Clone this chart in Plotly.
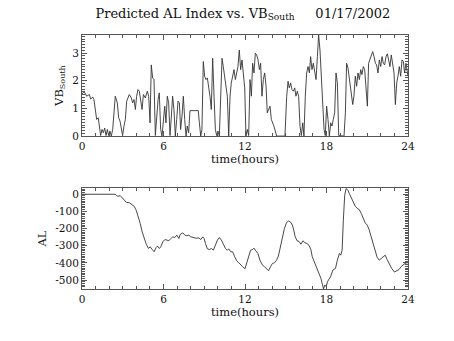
import plotly.graph_objects as go

# Southward solar-wind driver VB_South (mV/m) vs. time of day (hours)
vb_hours = [
    0.00, 0.15, 0.34, 0.54, 0.64, 0.79, 0.88, 0.98, 1.08, 1.20, 1.28, 1.37, 1.47, 1.57, 1.67, 1.77,
    1.87, 1.96, 2.06, 2.16, 2.26, 2.36, 2.45, 2.60, 2.70, 2.80, 2.90, 2.99, 3.09, 3.19, 3.29, 3.48,
    3.63, 3.73, 3.83, 3.93, 4.02, 4.12, 4.22, 4.32, 4.42, 4.52, 4.66, 4.81, 4.91, 5.01, 5.10, 5.20,
    5.30, 5.40, 5.50, 5.60, 5.69, 5.79, 5.89, 5.99, 6.09, 6.18, 6.28, 6.38, 6.48, 6.58, 6.67, 6.77,
    6.87, 6.97, 7.07, 7.17, 7.26, 7.36, 7.46, 7.56, 7.66, 7.75, 7.85, 7.95, 8.56, 8.64, 8.74, 8.83,
    8.93, 9.03, 9.13, 9.23, 9.33, 9.42, 9.52, 9.62, 9.72, 9.82, 9.91, 10.01, 10.11, 10.21, 10.31, 10.40,
    10.50, 10.60, 10.70, 10.80, 10.90, 10.99, 11.09, 11.19, 11.29, 11.39, 11.48, 11.58, 11.68, 11.78, 11.88, 11.98,
    12.07, 12.17, 12.27, 12.37, 12.47, 12.56, 12.66, 12.76, 12.86, 12.96, 13.06, 13.15, 13.25, 13.35, 13.45, 13.55,
    13.64, 13.74, 13.84, 13.94, 14.04, 14.13, 14.33, 14.94, 15.07, 15.17, 15.26, 15.36, 15.46, 15.56, 15.66, 15.75,
    15.85, 15.95, 16.05, 16.15, 16.25, 16.34, 16.44, 16.54, 16.64, 16.74, 16.83, 16.93, 17.03, 17.13, 17.23, 17.33,
    17.42, 17.52, 17.62, 17.72, 17.82, 17.91, 18.01, 18.11, 18.21, 18.31, 18.40, 18.50, 18.60, 18.70, 18.80, 18.90,
    19.29, 19.39, 19.48, 19.58, 19.68, 19.78, 19.93, 20.02, 20.12, 20.22, 20.32, 20.42, 20.52, 20.61, 20.71, 20.81,
    20.91, 21.01, 21.10, 21.20, 21.30, 21.40, 21.50, 21.60, 21.69, 21.79, 21.89, 21.99, 22.09, 22.18, 22.28, 22.38,
    22.48, 22.58, 22.67, 22.77, 22.87, 22.97, 23.07, 23.17, 23.26, 23.36, 23.46, 23.56, 23.66, 23.75, 23.85, 24.00,
]
vb_south = [
    1.50, 1.62, 1.44, 1.50, 1.34, 1.41, 1.32, 0.84, 0.60, 0.66, 0.24, 0.02, 0.24, 0.12, 0.29, 0.02,
    0.24, 0.02, 0.18, 0.00, 0.24, 0.84, 1.44, 1.20, 0.66, 0.54, 0.24, 0.02, 0.36, 0.60, 1.26, 1.50,
    1.38, 1.20, 1.32, 0.96, 1.44, 1.68, 1.62, 1.32, 0.96, 1.50, 1.38, 1.62, 1.44, 0.48, 2.57, 2.10,
    2.04, 0.02, 0.84, 1.32, 1.56, 0.24, 0.00, 0.60, 1.08, 0.48, 1.44, 1.20, 0.02, 0.72, 1.44, 0.96,
    0.00, 0.60, 1.26, 1.20, 0.24, 0.72, 1.44, 0.60, 0.00, 0.36, 0.12, 0.92, 0.92, 0.48, 0.00, 0.24,
    2.69, 2.16, 2.04, 2.10, 1.80, 1.44, 0.96, 2.81, 1.44, 0.24, 0.02, 0.18, 0.00, 1.44, 2.81, 2.51,
    2.16, 1.68, 1.44, 0.00, 1.44, 1.92, 2.16, 2.40, 2.04, 2.28, 2.51, 3.11, 2.40, 2.75, 2.16, 1.74,
    0.00, 0.24, 0.02, 2.04, 1.44, 2.63, 2.28, 2.99, 2.93, 2.75, 2.40, 2.63, 1.44, 2.04, 2.28, 1.80,
    0.84, 0.96, 1.08, 0.60, 0.48, 0.36, 0.00, 0.00, 1.44, 1.98, 1.74, 1.92, 1.68, 1.62, 1.74, 1.44,
    1.62, 1.44, 0.36, 0.02, 0.48, 0.00, 1.44, 2.28, 2.51, 2.28, 2.87, 2.40, 2.63, 2.28, 2.04, 2.87,
    3.65, 3.11, 2.04, 1.44, 0.24, 0.02, 1.08, 0.60, 0.00, 0.48, 0.36, 0.60, 0.84, 2.28, 1.92, 0.02,
    0.00, 0.84, 2.63, 2.46, 2.04, 1.80, 1.14, 1.44, 2.16, 1.80, 2.28, 2.04, 2.40, 2.22, 2.51, 2.40,
    1.68, 1.08, 2.63, 2.75, 2.93, 3.05, 2.87, 2.63, 2.57, 2.28, 2.75, 2.51, 2.87, 2.63, 2.57, 2.87,
    2.97, 2.75, 2.51, 2.93, 2.51, 2.28, 1.14, 1.92, 2.16, 2.51, 2.16, 2.75, 2.69, 2.28, 2.63, 2.16,
]

# Predicted AL index (nT) vs. time of day (hours)
al_hours = [
    0.00, 2.45, 2.52, 2.64, 2.82, 2.94, 3.06, 3.26, 3.50, 3.67, 3.84, 3.99, 4.16, 4.29, 4.43, 4.58,
    4.73, 4.90, 5.02, 5.17, 5.31, 5.46, 5.56, 5.70, 5.80, 5.95, 6.10, 6.25, 6.39, 6.54, 6.69, 6.83,
    6.98, 7.13, 7.23, 7.42, 7.57, 7.72, 7.86, 8.01, 8.20, 8.40, 8.60, 8.74, 8.89, 8.99, 9.09, 9.23,
    9.38, 9.53, 9.67, 9.82, 9.97, 10.11, 10.26, 10.41, 10.56, 10.70, 10.80, 10.95, 11.09, 11.24, 11.39, 11.54,
    11.68, 11.83, 12.00, 12.12, 12.27, 12.41, 12.56, 12.66, 12.80, 12.95, 13.10, 13.29, 13.44, 13.59, 13.73, 13.88,
    14.02, 14.17, 14.32, 14.46, 14.61, 14.76, 14.90, 15.05, 15.20, 15.34, 15.49, 15.59, 15.68, 15.83, 15.98, 16.12,
    16.27, 16.41, 16.56, 16.71, 16.85, 16.95, 17.10, 17.24, 17.39, 17.49, 17.59, 17.68, 17.78, 17.88, 17.98, 18.07,
    18.17, 18.32, 18.46, 18.66, 18.80, 18.95, 19.05, 19.15, 19.24, 19.34, 19.44, 19.59, 19.68, 19.83, 19.98, 20.12,
    20.27, 20.41, 20.56, 20.71, 20.85, 21.00, 21.15, 21.29, 21.44, 21.59, 21.73, 21.88, 22.02, 22.17, 22.32, 22.46,
    22.61, 22.80, 23.00, 23.20, 23.34, 23.49, 23.63, 23.78, 23.93, 24.00,
]
al_index = [
    0, 0, -6, -12, -8, -19, -35, -47, -50, -58, -70, -93, -132, -171, -219, -258,
    -291, -316, -306, -322, -335, -310, -302, -316, -306, -277, -264, -267, -271, -258, -248, -252,
    -238, -258, -234, -225, -238, -242, -238, -248, -254, -256, -254, -264, -248, -258, -287, -318,
    -322, -316, -326, -297, -267, -252, -267, -291, -316, -326, -318, -335, -335, -364, -388, -399,
    -413, -422, -434, -403, -355, -326, -322, -314, -330, -345, -384, -413, -422, -434, -446, -422,
    -403, -399, -384, -360, -306, -248, -200, -167, -155, -161, -180, -209, -244, -271, -275, -291,
    -271, -283, -287, -297, -322, -364, -393, -422, -457, -465, -490, -519, -552, -529, -539, -510,
    -496, -477, -442, -432, -384, -345, -355, -326, -151, -6, 33, 23, 4, -25, -54, -70,
    -83, -89, -112, -141, -167, -180, -209, -248, -291, -326, -368, -384, -374, -364, -355, -380,
    -407, -432, -453, -442, -438, -422, -413, -403, -399, -399,
]

x_ticks = [0, 6, 12, 18, 24]
vb_ticks = [0, 1, 2, 3]
al_ticks = [0, -100, -200, -300, -400, -500]

FONT = "DejaVu Serif"
INK = "#333333"
FRAME = "#555555"

fig = go.Figure()
fig.add_trace(go.Scatter(x=vb_hours, y=vb_south, mode="lines",
                         line=dict(color=INK, width=0.9), xaxis="x", yaxis="y"))
fig.add_trace(go.Scatter(x=al_hours, y=al_index, mode="lines",
                         line=dict(color=INK, width=0.9), xaxis="x2", yaxis="y2"))

axis_common = dict(
    showgrid=False, zeroline=False, showline=True, linecolor=FRAME, linewidth=1,
    mirror="allticks", ticks="inside", ticklen=5, tickcolor=FRAME, tickwidth=1,
    tickfont=dict(family=FONT, size=10.5, color="#111111"),
)
x_common = dict(axis_common, range=[0, 24], tickvals=x_ticks,
                ticktext=[str(t) for t in x_ticks],
                minor=dict(dtick=1, ticks="inside", ticklen=3, tickcolor=FRAME),
                title=dict(text="time(hours)", font=dict(family=FONT, size=11.5, color="#111111"),
                           standoff=1))

fig.update_layout(
    width=454, height=341,
    margin=dict(l=82, r=46, t=35, b=52),
    paper_bgcolor="white", plot_bgcolor="white",
    showlegend=False,
    title=dict(text="Predicted AL Index vs. VB<sub>South</sub>\u00a0\u00a0\u00a0\u00a0\u00a001/17/2002",
               x=0.535, xanchor="center", y=0.975, yanchor="top",
               font=dict(family=FONT, size=13, color="#111111")),
    xaxis=dict(x_common, domain=[0, 1], anchor="y"),
    yaxis=dict(axis_common, domain=[0.602, 1.0], anchor="x",
               range=[0, max(vb_south)], tickvals=vb_ticks,
               ticktext=[str(t) for t in vb_ticks],
               minor=dict(dtick=0.1, ticks="inside", ticklen=3, tickcolor=FRAME),
               title=dict(text="VB<sub>South</sub>", font=dict(family=FONT, size=11.5, color="#111111"),
                          standoff=6)),
    xaxis2=dict(x_common, domain=[0, 1], anchor="y2"),
    yaxis2=dict(axis_common, domain=[0.0, 0.398], anchor="x2",
                range=[min(al_index), max(al_index) + 4], tickvals=al_ticks,
                ticktext=[str(t) for t in al_ticks],
                minor=dict(dtick=10, ticks="inside", ticklen=3, tickcolor=FRAME),
                title=dict(text="AL", font=dict(family=FONT, size=11.5, color="#111111"),
                           standoff=6)),
)

fig.write_html("out.html")
